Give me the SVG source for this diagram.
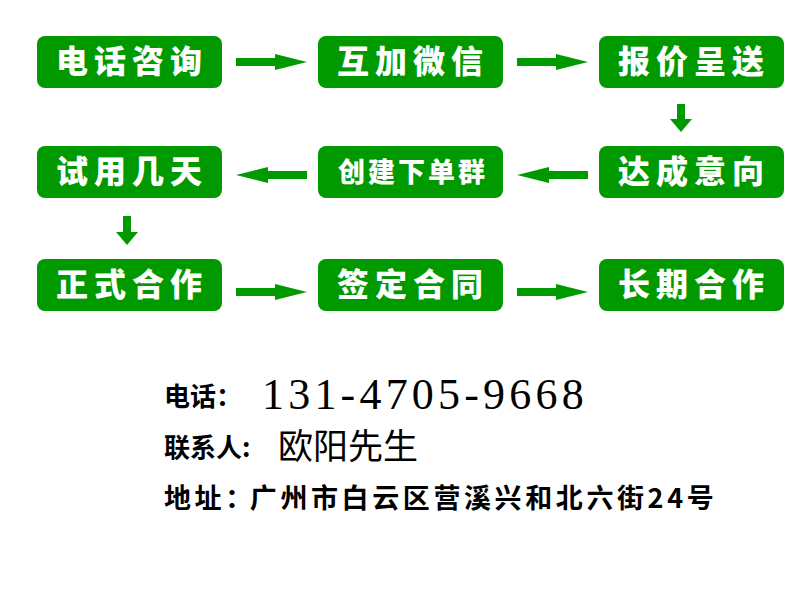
<svg xmlns="http://www.w3.org/2000/svg" width="800" height="600" viewBox="0 0 800 600">
<style>
.b{fill:#009a00}
.t{fill:#fff;font-family:"Noto Sans CJK SC",sans-serif;font-weight:900;font-size:32px;letter-spacing:6px;text-anchor:middle}
.a{fill:#009a00}
.k{font-family:"Noto Sans CJK SC",sans-serif;font-size:26px;fill:#000}
</style>
<rect width="800" height="600" fill="#fff"/>
<g id="n1"><rect class="b" x="37" y="36" width="185" height="52" rx="8"/><text class="t" x="132" y="73">电话咨询</text></g>
<g id="n2"><rect class="b" x="318" y="36" width="185" height="52" rx="8"/><text class="t" x="413" y="73">互加微信</text></g>
<g id="n3"><rect class="b" x="599" y="36" width="185" height="52" rx="8"/><text class="t" x="694" y="73">报价呈送</text></g>
<g id="n4"><rect class="b" x="599" y="146" width="185" height="52" rx="8"/><text class="t" x="694" y="183">达成意向</text></g>
<g id="n5"><rect class="b" x="318" y="146" width="185" height="52" rx="8"/><text class="t" x="413" y="182" style="font-size:27px;letter-spacing:3px">创建下单群</text></g>
<g id="n6"><rect class="b" x="37" y="146" width="185" height="52" rx="8"/><text class="t" x="132" y="183">试用几天</text></g>
<g id="n7"><rect class="b" x="37" y="259" width="185" height="52" rx="8"/><text class="t" x="132" y="296">正式合作</text></g>
<g id="n8"><rect class="b" x="318" y="259" width="185" height="52" rx="8"/><text class="t" x="413" y="296">签定合同</text></g>
<g id="n9"><rect class="b" x="599" y="259" width="185" height="52" rx="8"/><text class="t" x="694" y="296">长期合作</text></g>
<g id="connectors">
<polygon class="a" points="236,58 275,58 275,54 307,62 275,70 275,66 236,66"/>
<polygon class="a" points="517,58 556,58 556,54 588,62 556,70 556,66 517,66"/>
<polygon class="a" points="677,104 685,104 685,119 692,119 681,132 670,119 677,119"/>
<polygon class="a" points="307,171 268,171 268,167 236,175 268,183 268,179 307,179"/>
<polygon class="a" points="588,171 549,171 549,167 517,175 549,183 549,179 588,179"/>
<polygon class="a" points="123,216 131,216 131,232 138,232 127,245 116,232 123,232"/>
<polygon class="a" points="236,288 275,288 275,284 307,292 275,300 275,296 236,296"/>
<polygon class="a" points="517,288 556,288 556,284 588,292 556,300 556,296 517,296"/>
</g>
<text class="k" x="164" y="406" style="font-weight:700;font-size:26px">电话：</text>
<text x="262" y="409" style="font-family:'Liberation Serif',serif;font-size:44px;letter-spacing:4.2px">131-4705-9668</text>
<text class="k" x="164" y="457" style="font-weight:700;font-size:26px">联系人:</text>
<text class="k" x="278" y="459" style="font-size:35px">欧阳先生</text>
<text class="k" x="164" y="508" style="font-weight:700;font-size:27px;letter-spacing:3.6px">地址：<tspan dx="-6">广州市白云区营溪兴和北六街24号</tspan></text>
</svg>
